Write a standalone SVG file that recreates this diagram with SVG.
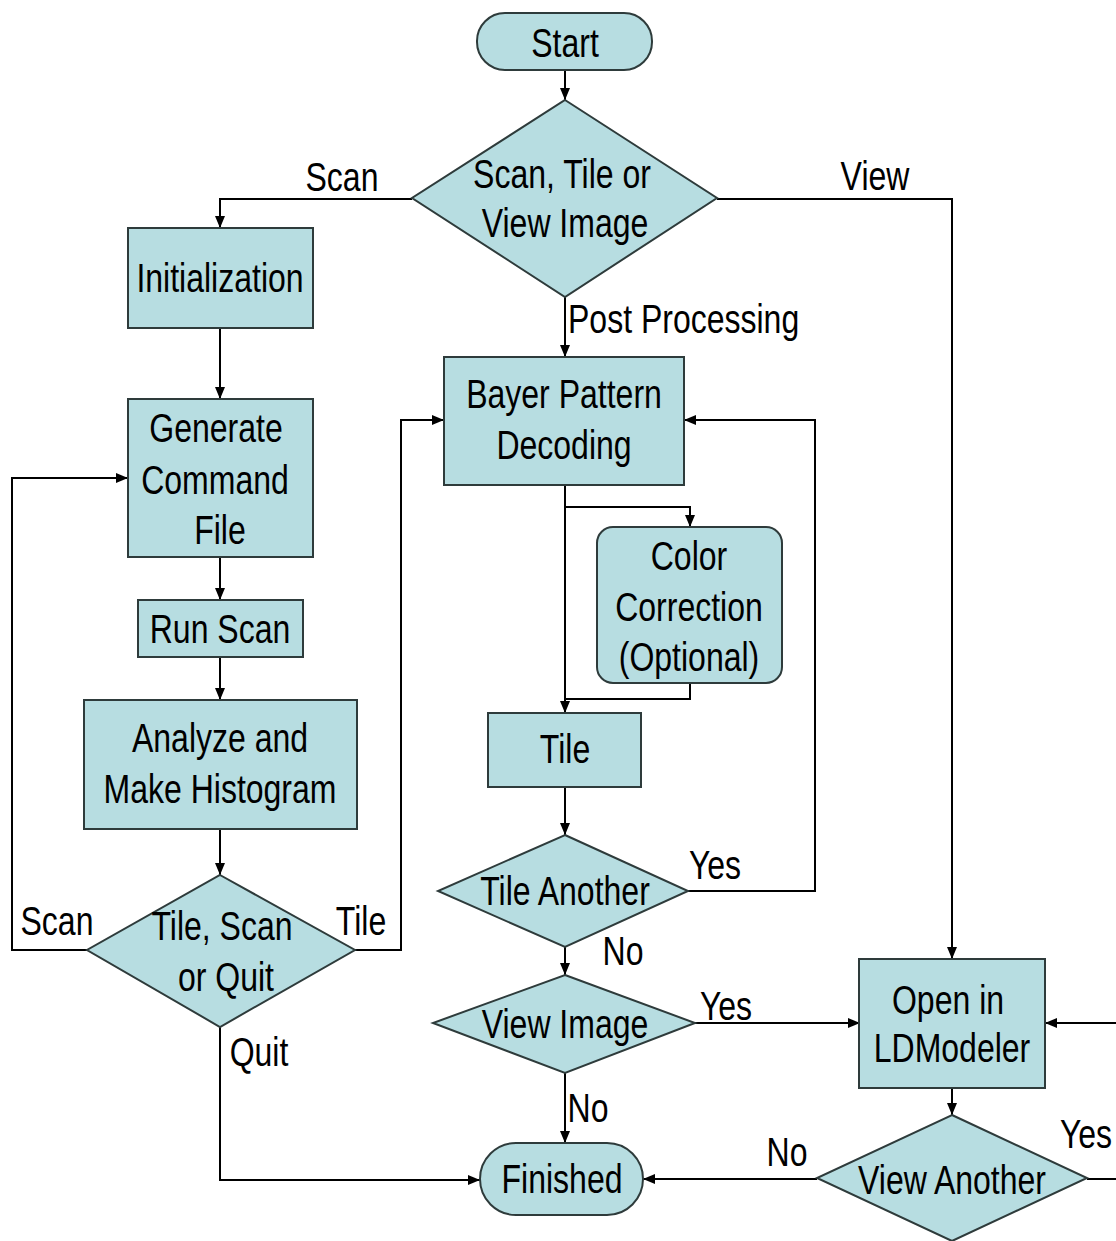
<svg xmlns="http://www.w3.org/2000/svg" width="1116" height="1241" viewBox="0 0 1116 1241">
  <defs>
    <marker id="arrow" markerUnits="userSpaceOnUse" markerWidth="12" markerHeight="10" refX="12" refY="5" orient="auto">
      <path d="M0,0 L12,5 L0,10 z" fill="#000"/>
    </marker>
    <style>
      .box { fill: #b7dde1; stroke: #2e3b3b; stroke-width: 2; }
      .wire { fill: none; stroke: #000; stroke-width: 2; marker-end: url(#arrow); }
      .line { fill: none; stroke: #000; stroke-width: 2; }
      text { font-family: "Liberation Sans", Arial, sans-serif; font-size: 40px; fill: #000; text-anchor: middle; }
      .start { text-anchor: start; }
    </style>
  </defs>
  <rect width="1116" height="1241" fill="#fff"/>

  <!-- connectors -->
  <g id="connectors">
    <path class="wire" d="M565,70 V100"/>
    <path class="wire" d="M412,199 H220 V228"/>
    <path class="wire" d="M717,199 H952 V959"/>
    <path class="wire" d="M565,297 V357"/>
    <path class="wire" d="M220,328 V399"/>
    <path class="wire" d="M220,557 V600"/>
    <path class="wire" d="M220,657 V700"/>
    <path class="wire" d="M220,829 V875"/>
    <path class="wire" d="M87,950 H12 V478 H128"/>
    <path class="wire" d="M355,950 H401 V420 H444"/>
    <path class="wire" d="M220,1027 V1180 H480"/>
    <path class="wire" d="M565,485 V713"/>
    <path class="wire" d="M565,507 H690 V527"/>
    <path class="line" d="M690,683 V699 H565"/>
    <path class="wire" d="M565,787 V835"/>
    <path class="wire" d="M688,891 H815 V420 H684"/>
    <path class="wire" d="M565,947 V975"/>
    <path class="wire" d="M695,1023 H860"/>
    <path class="wire" d="M565,1073 V1143"/>
    <path class="wire" d="M952,1088 V1115"/>
    <path class="wire" d="M817,1179 H643"/>
    <path class="line" d="M1087,1179 H1130"/>
    <path class="wire" d="M1130,1023 H1045"/>
  </g>

  <!-- edge labels -->
  <g id="labels">
    <text transform="matrix(0.8 0 0 1 342 191)">Scan</text>
    <text transform="matrix(0.8 0 0 1 875 190)">View</text>
    <text class="start" transform="matrix(0.8 0 0 1 568 333)">Post Processing</text>
    <text transform="matrix(0.8 0 0 1 57 935)">Scan</text>
    <text transform="matrix(0.8 0 0 1 361 935)">Tile</text>
    <text transform="matrix(0.8 0 0 1 259 1066)">Quit</text>
    <text transform="matrix(0.8 0 0 1 715 879)">Yes</text>
    <text transform="matrix(0.8 0 0 1 623 965)">No</text>
    <text transform="matrix(0.8 0 0 1 726 1020)">Yes</text>
    <text transform="matrix(0.8 0 0 1 588 1122)">No</text>
    <text transform="matrix(0.8 0 0 1 787 1166)">No</text>
    <text transform="matrix(0.8 0 0 1 1086 1148)">Yes</text>
  </g>

  <g id="start">
    <rect class="box" x="477" y="13" width="175" height="57" rx="28"/>
    <text transform="matrix(0.8 0 0 1 565 57)">Start</text>
  </g>

  <g id="choose-mode">
    <polygon class="box" points="565,100 717,198 565,297 412,198"/>
    <text transform="matrix(0.8 0 0 1 562 188)">Scan, Tile or</text>
    <text transform="matrix(0.8 0 0 1 565 237)">View Image</text>
  </g>

  <g id="initialization">
    <rect class="box" x="128" y="228" width="185" height="100"/>
    <text transform="matrix(0.8 0 0 1 220 292)">Initialization</text>
  </g>

  <g id="generate-command-file">
    <rect class="box" x="128" y="399" width="185" height="158"/>
    <text transform="matrix(0.8 0 0 1 216 442)">Generate</text>
    <text transform="matrix(0.8 0 0 1 215 494)">Command</text>
    <text transform="matrix(0.8 0 0 1 220 544)">File</text>
  </g>

  <g id="run-scan">
    <rect class="box" x="138" y="600" width="165" height="57"/>
    <text transform="matrix(0.8 0 0 1 220 643)">Run Scan</text>
  </g>

  <g id="analyze">
    <rect class="box" x="84" y="700" width="273" height="129"/>
    <text transform="matrix(0.8 0 0 1 220 752)">Analyze and</text>
    <text transform="matrix(0.8 0 0 1 220 803)">Make Histogram</text>
  </g>

  <g id="tile-scan-quit">
    <polygon class="box" points="220,875 355,950 220,1027 87,950"/>
    <text transform="matrix(0.8 0 0 1 222 940)">Tile, Scan</text>
    <text transform="matrix(0.8 0 0 1 226 991)">or Quit</text>
  </g>

  <g id="bayer-decoding">
    <rect class="box" x="444" y="357" width="240" height="128"/>
    <text transform="matrix(0.8 0 0 1 564 408)">Bayer Pattern</text>
    <text transform="matrix(0.8 0 0 1 564 459)">Decoding</text>
  </g>

  <g id="color-correction">
    <rect class="box" x="597" y="527" width="185" height="156" rx="16"/>
    <text transform="matrix(0.8 0 0 1 689 570)">Color</text>
    <text transform="matrix(0.8 0 0 1 689 621)">Correction</text>
    <text transform="matrix(0.8 0 0 1 689 671)">(Optional)</text>
  </g>

  <g id="tile">
    <rect class="box" x="488" y="713" width="153" height="74"/>
    <text transform="matrix(0.8 0 0 1 565 763)">Tile</text>
  </g>

  <g id="tile-another">
    <polygon class="box" points="565,835 688,891 565,947 438,891"/>
    <text transform="matrix(0.8 0 0 1 565 905)">Tile Another</text>
  </g>

  <g id="view-image">
    <polygon class="box" points="565,975 695,1023 565,1073 433,1023"/>
    <text transform="matrix(0.8 0 0 1 565 1038)">View Image</text>
  </g>

  <g id="finished">
    <rect class="box" x="480" y="1143" width="163" height="72" rx="36"/>
    <text transform="matrix(0.8 0 0 1 562 1193)">Finished</text>
  </g>

  <g id="open-ldmodeler">
    <rect class="box" x="859" y="959" width="186" height="129"/>
    <text transform="matrix(0.8 0 0 1 948 1014)">Open in</text>
    <text transform="matrix(0.8 0 0 1 952 1062)">LDModeler</text>
  </g>

  <g id="view-another">
    <polygon class="box" points="952,1115 1087,1178 952,1241 817,1178"/>
    <text transform="matrix(0.8 0 0 1 952 1194)">View Another</text>
  </g>
</svg>
